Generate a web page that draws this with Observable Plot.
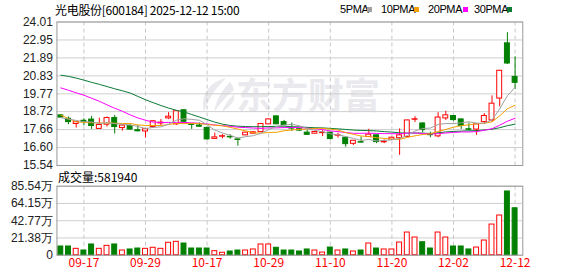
<!DOCTYPE html>
<html><head><meta charset="utf-8">
<script src="https://cdn.jsdelivr.net/npm/d3@7"></script>
<script src="https://cdn.jsdelivr.net/npm/@observablehq/plot@0.6"></script>
<style>
html,body{margin:0;padding:0;background:#fff;}
#wrap{position:relative;width:578px;height:276px;overflow:hidden;font-family:"Noto Sans CJK SC",sans-serif;}
.abs{position:absolute;}
#title{left:55px;top:2px;font-size:12px;line-height:15px;color:#000;letter-spacing:-0.3px;white-space:nowrap;}
.leg{top:2px;font-size:11px;line-height:15px;color:#000;font-family:"Liberation Sans",sans-serif;letter-spacing:-0.4px;white-space:nowrap;}
.sq{width:5px;height:5px;top:7px;}
#wm{left:236px;top:75px;font-size:36px;line-height:36px;font-weight:bold;color:#e9e9ee;white-space:nowrap;z-index:0;}
#logo{left:196px;top:76px;z-index:0;}
#price{left:0;top:16px;z-index:1;}
#vlabel{left:58px;top:170px;font-size:12px;line-height:14px;color:#000;white-space:nowrap;}
#vol{left:0;top:184px;z-index:1;}
svg{overflow:visible;}
</style>
</head><body>
<div id="wrap">
  <div id="title" class="abs">光电股份[600184] 2025-12-12 15:00</div>
  <div id="legend"></div>
  <svg id="logo" class="abs" width="40" height="38" viewBox="0 0 40 38">
    <path d="M30 2 C14 6 4 18 8 36 C12 24 18 14 30 2 Z" fill="#e9e9ee"/>
    <path d="M34 6 C26 14 20 24 18 36 C24 28 30 20 38 14 C37 11 36 8 34 6 Z" fill="#e9e9ee"/>
    <path d="M38 18 C32 24 28 30 26 36 C32 32 36 28 38 24 Z" fill="#e9e9ee"/>
  </svg>
  <div id="wm" class="abs">东方财富</div>
  <div id="price" class="abs"></div>
  <div id="vlabel" class="abs">成交量:581940</div>
  <div id="vol" class="abs"></div>
</div>
<script>
// ---- data ----
const dates = ["09-12","09-15","09-16","09-17","09-18","09-19","09-22","09-23","09-24","09-25","09-26","09-29","09-30","10-09","10-10","10-13","10-14","10-15","10-16","10-17","10-20","10-21","10-22","10-23","10-24","10-27","10-28","10-29","10-30","10-31","11-03","11-04","11-05","11-06","11-07","11-10","11-11","11-12","11-13","11-14","11-17","11-18","11-19","11-20","11-21","11-24","11-25","11-26","11-27","11-28","12-01","12-02","12-03","12-04","12-05","12-08","12-09","12-10","12-11","12-12"];
const open = [18.50,18.30,17.99,18.18,18.25,17.70,17.95,18.34,17.75,17.87,17.62,17.55,17.81,18.02,18.32,17.97,18.80,17.96,17.90,17.76,17.11,17.24,17.23,17.08,17.32,17.42,17.51,17.97,18.44,18.10,17.75,17.68,17.48,17.42,17.45,17.48,17.30,17.18,16.82,16.92,17.22,17.32,16.91,17.06,17.15,17.22,18.24,18.02,17.36,17.26,18.32,18.46,18.26,17.68,17.66,18.10,18.20,19.49,22.75,20.77];
const close = [18.37,18.10,18.10,18.12,17.87,17.93,18.34,17.81,17.90,17.66,17.56,17.68,18.15,18.07,18.42,18.74,18.12,17.93,17.83,17.08,17.20,17.27,17.20,17.05,17.48,17.50,17.99,18.26,17.97,17.92,17.72,17.60,17.35,17.52,17.48,17.10,17.33,16.80,17.00,16.89,17.36,16.92,16.94,17.18,17.32,18.20,18.27,17.63,17.33,18.37,18.50,18.22,17.87,17.65,17.97,18.46,19.19,21.13,21.56,20.42];
const high = [18.55,18.40,18.13,18.30,18.44,18.33,18.40,18.50,17.95,17.95,17.90,17.72,18.20,18.25,18.66,18.76,18.82,17.97,18.05,17.80,17.45,17.36,17.36,17.16,17.50,17.52,18.01,18.30,18.46,18.20,18.05,17.70,17.62,17.55,17.60,17.50,17.45,17.20,17.02,17.22,17.68,17.34,17.05,17.20,17.70,18.22,18.42,18.07,17.51,18.66,18.74,18.47,18.28,18.05,17.98,18.60,19.65,21.15,23.38,21.95];
const low = [18.33,17.95,17.75,17.88,17.67,17.68,17.81,17.40,17.57,17.62,17.52,17.16,17.75,17.90,18.25,17.90,18.10,17.67,17.80,17.04,17.08,17.12,17.09,16.68,17.30,17.40,17.48,17.95,17.95,17.90,17.55,17.55,17.32,17.40,17.25,17.05,17.16,16.62,16.72,16.88,17.20,16.83,16.83,17.05,16.14,17.20,18.08,17.47,17.18,17.18,18.20,18.15,17.67,17.61,17.32,18.02,18.10,19.00,21.50,20.03];
const volume = [108000,108000,79000,58000,133000,79000,116000,133000,58000,71000,83000,79000,92000,79000,154000,166000,145000,83000,83000,83000,50000,30000,46000,58000,58000,71000,133000,133000,92000,58000,58000,46000,71000,58000,33000,95000,58000,71000,46000,58000,145000,83000,71000,71000,157000,281000,219000,161000,83000,281000,219000,108000,108000,71000,95000,182000,380000,492000,790000,581940];
const ma5 = [18.37,18.28,18.20,18.12,18.11,18.02,18.07,18.01,17.97,17.93,17.85,17.72,17.79,17.82,17.98,18.21,18.30,18.26,18.21,17.94,17.63,17.46,17.32,17.16,17.24,17.30,17.44,17.66,17.84,17.93,17.97,17.89,17.71,17.62,17.53,17.41,17.36,17.25,17.14,17.02,17.08,16.99,17.02,17.06,17.14,17.31,17.58,17.72,17.75,17.96,18.02,18.01,18.06,18.12,18.04,18.03,18.23,18.88,19.66,20.15];
const ma10 = [18.52,18.30,18.12,18.08,18.06,18.05,18.05,18.04,18.02,18.02,17.94,17.90,17.90,17.90,17.96,18.03,18.01,18.03,18.02,17.96,17.92,17.88,17.79,17.69,17.59,17.47,17.45,17.49,17.50,17.59,17.64,17.67,17.69,17.73,17.73,17.69,17.63,17.48,17.38,17.28,17.25,17.18,17.14,17.10,17.08,17.20,17.29,17.37,17.41,17.55,17.67,17.80,17.89,17.94,18.00,18.03,18.12,18.47,18.89,19.10];
const ma20 = [20.12,19.98,19.83,19.69,19.51,19.33,19.12,18.92,18.74,18.53,18.35,18.21,18.10,18.08,18.08,18.08,18.08,18.06,18.03,17.99,17.93,17.89,17.85,17.80,17.78,17.75,17.73,17.76,17.76,17.78,17.78,17.78,17.74,17.71,17.66,17.58,17.54,17.49,17.44,17.44,17.45,17.43,17.42,17.42,17.41,17.45,17.46,17.43,17.40,17.42,17.46,17.49,17.52,17.52,17.54,17.62,17.71,17.92,18.15,18.33];
const ma30 = [20.87,20.80,20.70,20.58,20.45,20.33,20.20,20.07,19.95,19.82,19.62,19.42,19.25,19.08,18.93,18.80,18.70,18.55,18.40,18.25,18.10,17.98,17.90,17.86,17.84,17.83,17.83,17.84,17.85,17.86,17.83,17.82,17.79,17.77,17.76,17.73,17.70,17.67,17.63,17.61,17.60,17.58,17.54,17.51,17.47,17.45,17.46,17.45,17.43,17.47,17.52,17.55,17.57,17.59,17.60,17.64,17.68,17.77,17.89,17.98];
const priceTicks = [15.54,16.60,17.66,18.72,19.77,20.83,21.89,22.95,24.01];
const volTicks = [0,213850,427700,641550,855400];
const volTickLabels = ["0","21.38万","42.77万","64.15万","85.54万"];
const dateTickLabels = ["09-17","09-29","10-17","10-29","11-10","11-20","12-02","12-12"];
const maNames = ["5PMA","10PMA","20PMA","30PMA"];
const maColors = ["#a0a0a0","#f5a000","#ff00ff","#0a7a35"];

// ---- build ----
const RED = "#ff0000", GREEN = "#008000";
const rows = dates.map((d, i) => ({i, d, o: open[i], c: close[i], h: high[i], l: low[i], v: volume[i],
  ma5: ma5[i], ma10: ma10[i], ma20: ma20[i], ma30: ma30[i], up: close[i] >= open[i]}));
const ups = rows.filter(r => r.up), downs = rows.filter(r => !r.up);
const tickIdx = dateTickLabels.map(t => dates.indexOf(t));
const HW = 0.32;
const W = 578, ML = 56.45, MR = 55.7;
const xOpt = {type: "linear", domain: [-0.5, 60], axis: null};
const font = "Liberation Sans, Arial, sans-serif";

const price = Plot.plot({
  width: W, height: 154, marginTop: 5.5, marginBottom: 5, marginLeft: ML, marginRight: MR,
  style: {background: "transparent", fontFamily: font, fontSize: "12px", color: "#222", overflow: "visible"},
  x: xOpt,
  y: {domain: [15.54, 24.01], ticks: priceTicks, tickFormat: d => d.toFixed(2), tickSize: 0, tickPadding: 4, label: null},
  marks: [
    Plot.ruleY(priceTicks, {stroke: "#cfcfcf", strokeWidth: 1}),
    Plot.ruleX(tickIdx, {stroke: "#c8c8c8", strokeDasharray: "4,3"}),
    Plot.ruleX(rows, {x: "i", y1: "l", y2: "h", stroke: d => d.up ? RED : GREEN}),
    Plot.rect(ups, {x1: d => d.i - HW, x2: d => d.i + HW, y1: "o", y2: "c", fill: "#fff", stroke: RED, strokeWidth: 1}),
    Plot.rect(downs, {x1: d => d.i - HW, x2: d => d.i + HW, y1: "o", y2: "c", fill: GREEN, stroke: GREEN, strokeWidth: 1}),
    Plot.line(rows, {x: "i", y: "ma30", stroke: maColors[3], strokeWidth: 1}),
    Plot.line(rows, {x: "i", y: "ma20", stroke: maColors[2], strokeWidth: 1}),
    Plot.line(rows, {x: "i", y: "ma10", stroke: maColors[1], strokeWidth: 1}),
    Plot.line(rows, {x: "i", y: "ma5", stroke: maColors[0], strokeWidth: 1}),
    Plot.frame({stroke: "#999"})
  ],
  color: {type: "identity"}
});
document.getElementById("price").appendChild(price);

const vol = Plot.plot({
  width: W, height: 92, marginTop: 1.7, marginBottom: 21.3, marginLeft: ML, marginRight: MR,
  style: {background: "transparent", fontFamily: font, fontSize: "12px", color: "#222", overflow: "visible"},
  x: xOpt,
  y: {domain: [0, 855400], ticks: volTicks, tickFormat: d => volTickLabels[volTicks.indexOf(d)], tickSize: 0, tickPadding: 4, label: null},
  marks: [
    Plot.ruleY(volTicks, {stroke: "#cfcfcf", strokeWidth: 1}),
    Plot.ruleX(tickIdx, {stroke: "#c8c8c8", strokeDasharray: "4,3"}),
    Plot.rect(ups, {x1: d => d.i - HW, x2: d => d.i + HW, y1: 0, y2: "v", fill: "#fff", stroke: RED, strokeWidth: 1}),
    Plot.rect(downs, {x1: d => d.i - HW, x2: d => d.i + HW, y1: 0, y2: "v", fill: GREEN, stroke: GREEN, strokeWidth: 1}),
    Plot.frame({stroke: "#999"}),
    Plot.text(tickIdx, {x: d => d, text: d => dates[d], frameAnchor: "bottom", dy: 12, fill: RED,
      fontFamily: "Noto Sans CJK SC, sans-serif", fontSize: 12})
  ],
  color: {type: "identity"}
});
document.getElementById("vol").appendChild(vol);

// legend
const legPos = [340, 381, 428, 474];
const sqPos = [367, 414, 463, 507];
const leg = document.getElementById("legend");
maNames.forEach((n, k) => {
  const t = document.createElement("div");
  t.className = "abs leg"; t.style.left = legPos[k] + "px"; t.textContent = n;
  leg.appendChild(t);
  const s = document.createElement("div");
  s.className = "abs sq"; s.style.left = sqPos[k] + "px"; s.style.background = maColors[k];
  leg.appendChild(s);
});
</script>
</body></html>
